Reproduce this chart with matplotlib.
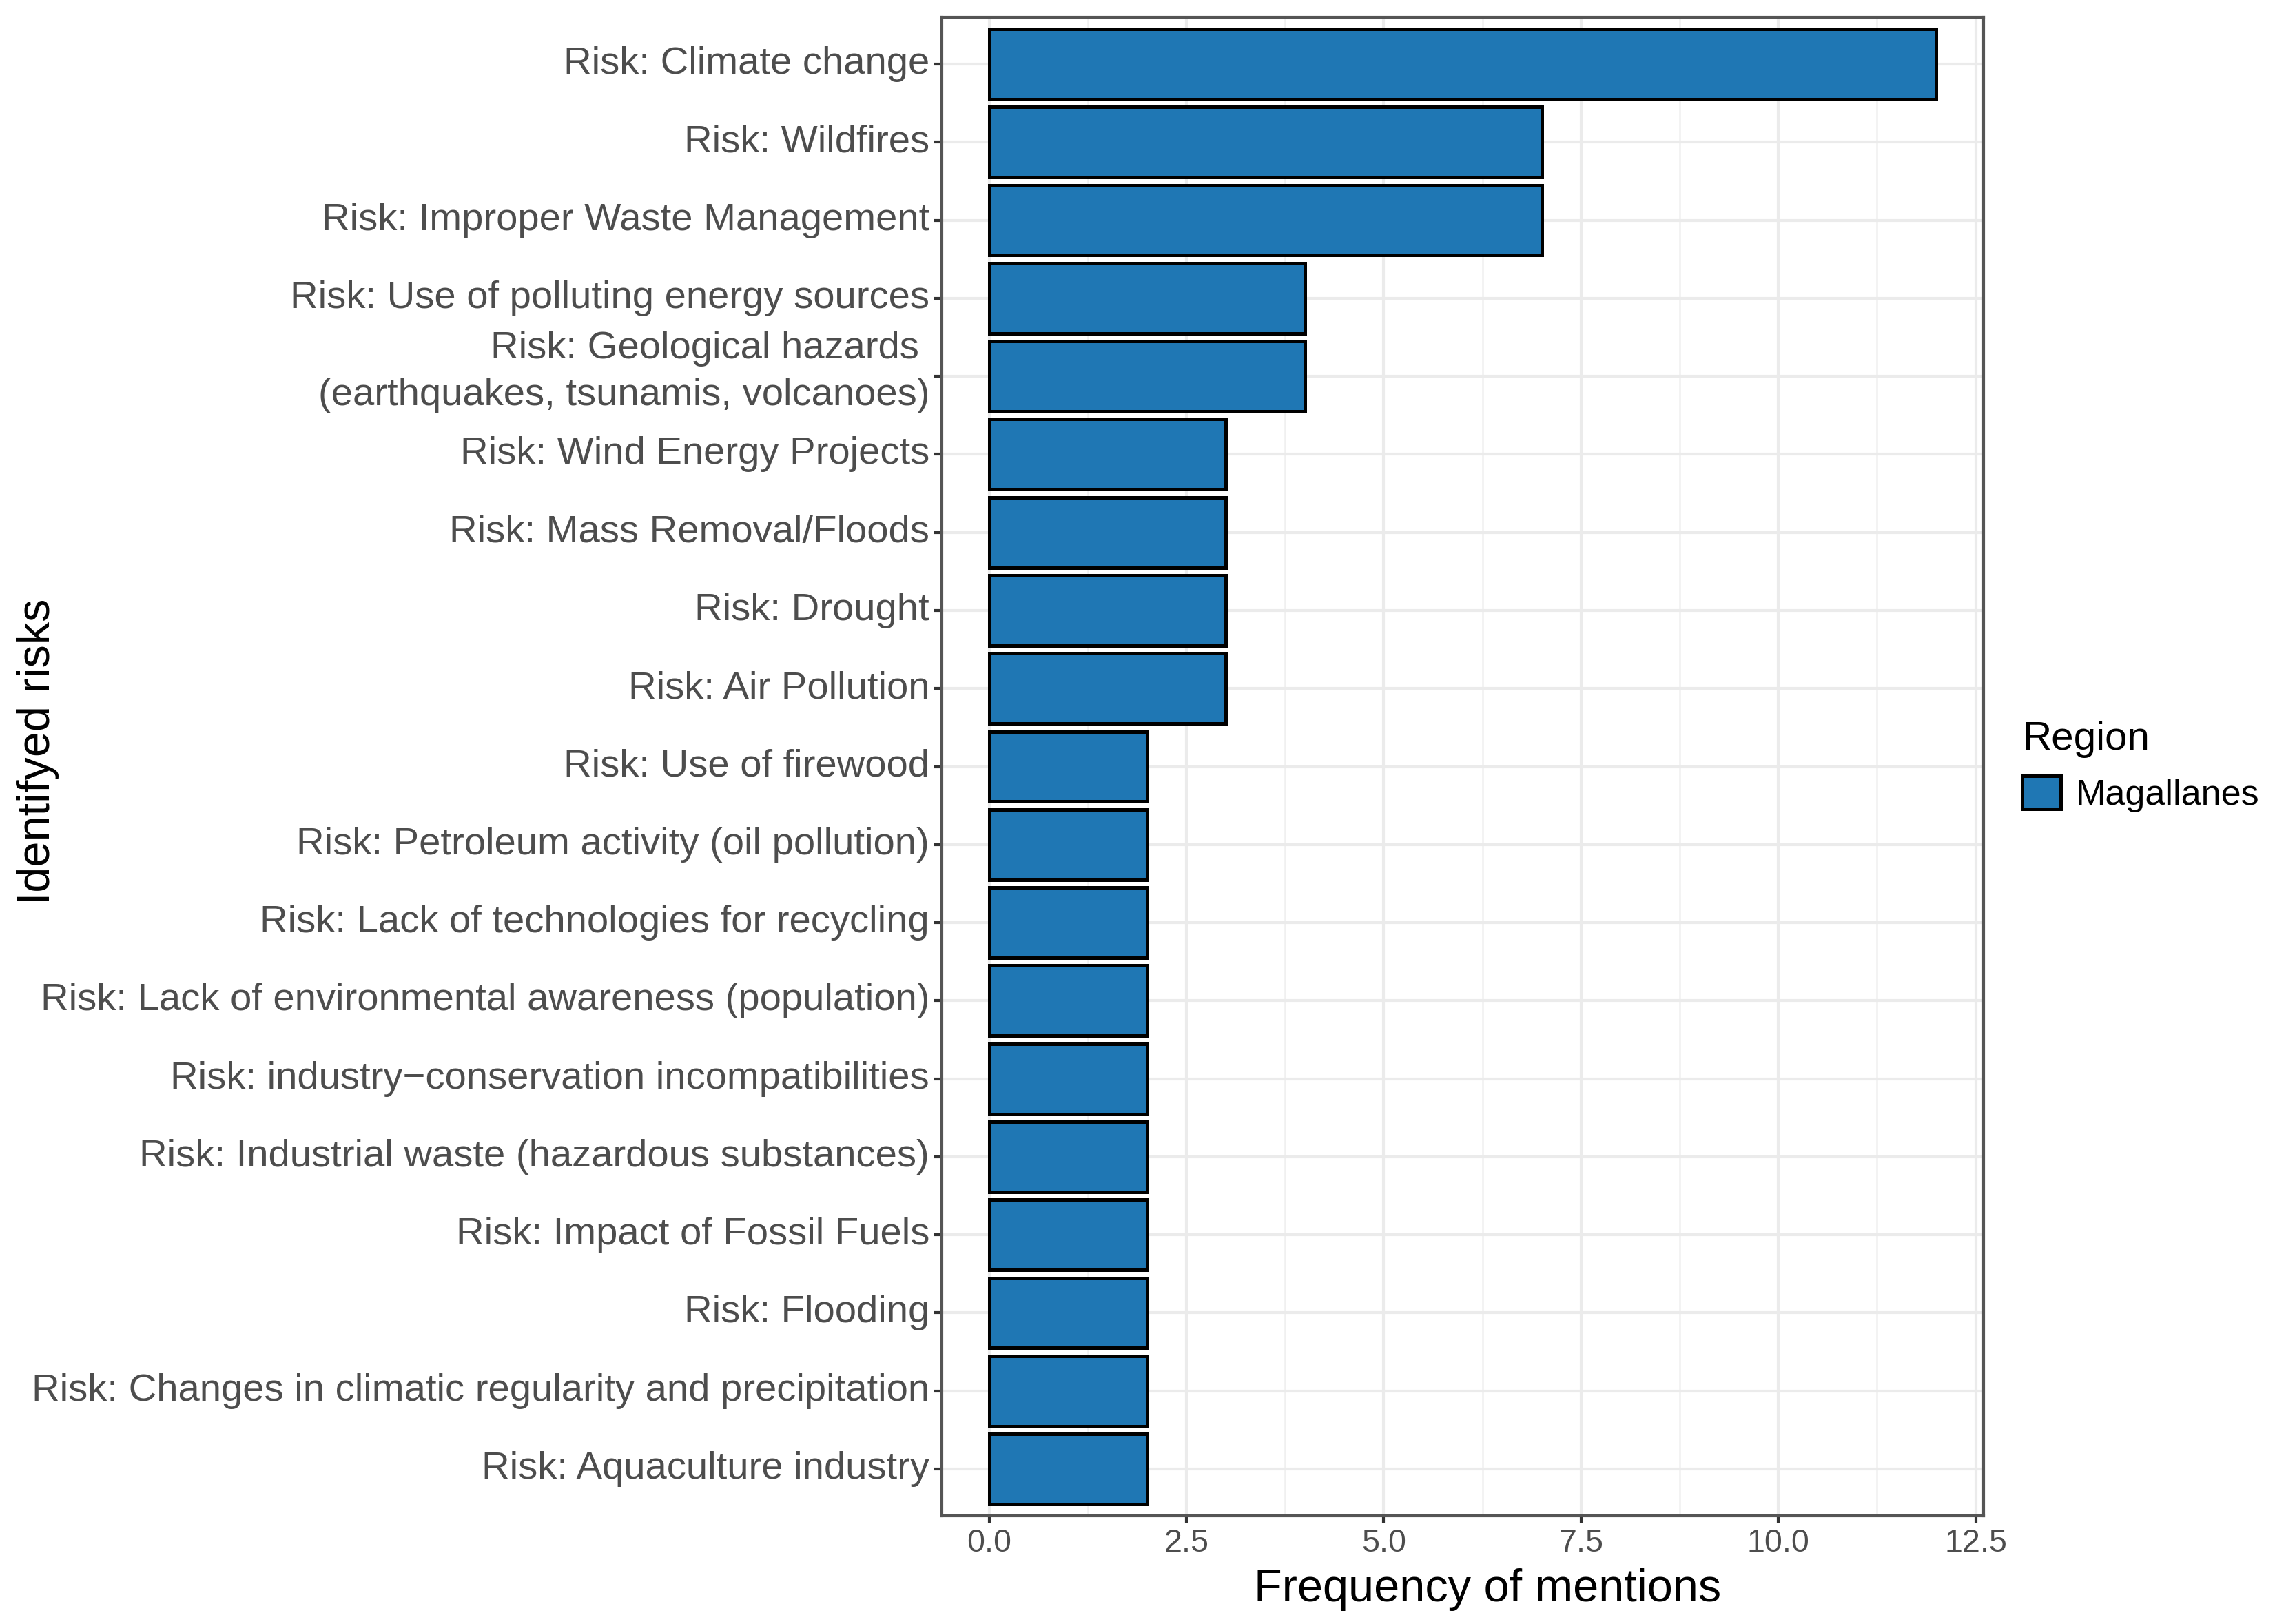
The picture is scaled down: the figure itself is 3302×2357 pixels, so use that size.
import matplotlib
matplotlib.use("Agg")
from matplotlib import pyplot as plt
from matplotlib import transforms
from matplotlib.patches import Patch
from matplotlib.ticker import MultipleLocator

plt.rcParams['font.family'] = ['Liberation Sans', 'DejaVu Sans']

# data, top to bottom as in the chart
risks = [
    "Risk: Climate change",
    "Risk: Wildfires",
    "Risk: Improper Waste Management",
    "Risk: Use of polluting energy sources",
    "Risk: Geological hazards \n(earthquakes, tsunamis, volcanoes)",
    "Risk: Wind Energy Projects",
    "Risk: Mass Removal/Floods",
    "Risk: Drought",
    "Risk: Air Pollution",
    "Risk: Use of firewood",
    "Risk: Petroleum activity (oil pollution)",
    "Risk: Lack of technologies for recycling",
    "Risk: Lack of environmental awareness (population)",
    "Risk: industry\u2212conservation incompatibilities",
    "Risk: Industrial waste (hazardous substances)",
    "Risk: Impact of Fossil Fuels",
    "Risk: Flooding",
    "Risk: Changes in climatic regularity and precipitation",
    "Risk: Aquaculture industry",
]
mentions = [12, 7, 7, 4, 4, 3, 3, 3, 3, 2, 2, 2, 2, 2, 2, 2, 2, 2, 2]
region = "Magallanes"
bar_color = "#1F77B4"

fig = plt.figure(figsize=(3302 / 300, 2357 / 300), dpi=300)
ax = fig.add_axes([0.4140, 0.0666, 0.4579, 0.9228])

positions = list(range(len(risks)))
ax.barh(positions, mentions, height=0.9, color=bar_color,
        edgecolor="black", linewidth=1.2, zorder=3)

# axes limits like ggplot expansion
ax.set_xlim(-0.6, 12.6)
ax.set_ylim(len(risks) - 0.4, -0.6)

ax.xaxis.set_minor_locator(MultipleLocator(1.25))
ax.set_xticks([0, 2.5, 5, 7.5, 10, 12.5])
ax.set_xticklabels(["0.0", "2.5", "5.0", "7.5", "10.0", "12.5"])
ax.set_yticks(positions)
ax.set_yticklabels([])

# y labels drawn by hand so the two-line one can be nudged
for pos, name in zip(positions, risks):
    dy = 1.5 if "\n" in name else 0.0
    tr = ax.get_yaxis_transform() + transforms.ScaledTranslation(
        -4.3 / 72, dy / 72, fig.dpi_scale_trans)
    ax.text(0, pos, name, transform=tr, ha="right", va="center",
            fontsize=13.5, color="#4D4D4D", linespacing=1.4)

# grid, theme_bw style
ax.grid(which="major", axis="both", color="#EBEBEB", linewidth=1.0, zorder=0)
ax.grid(which="minor", axis="x", color="#F0F0F0", linewidth=0.6, zorder=0)
ax.set_axisbelow(True)
for sp in ax.spines.values():
    sp.set_color("#555555")
    sp.set_linewidth(1.0)

ax.tick_params(axis="x", which="major", length=2.75, width=1.0, color="#333333",
               labelsize=11.2, labelcolor="#4D4D4D", pad=1.5)
ax.tick_params(axis="y", which="major", length=2.75, width=1.0, color="#333333")
ax.tick_params(which="minor", length=0)

ax.set_xlabel("Frequency of mentions", fontsize=16, color="black")
ax.set_ylabel("Identifyed risks", fontsize=16, color="black")
ax.xaxis.set_label_coords(0.524, -0.035)
ax.yaxis.set_label_coords(-0.847, 0.510)

handles = [Patch(facecolor=bar_color, edgecolor="black", linewidth=1.2, label=region)]
leg = ax.legend(handles=handles, title="Region", loc="center left",
                bbox_to_anchor=(1.037, 0.5), frameon=False, fontsize=12.5,
                title_fontsize=14, handlelength=1.07, handleheight=1.05,
                handletextpad=0.42, borderpad=0, borderaxespad=0,
                alignment="left")

fig.savefig("out.png", dpi=300)
